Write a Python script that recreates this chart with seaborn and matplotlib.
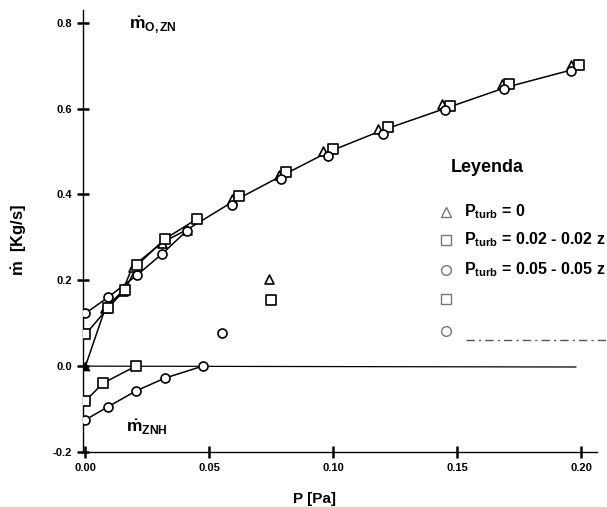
import matplotlib
matplotlib.use('Agg')
import matplotlib.pyplot as plt
from matplotlib.lines import Line2D
import seaborn as sns

sns.set_theme(style='white')
plt.rcParams['font.family'] = ['Liberation Sans', 'DejaVu Sans']
plt.rcParams['mathtext.fontset'] = 'custom'
plt.rcParams['mathtext.rm'] = 'Liberation Sans'
plt.rcParams['mathtext.bf'] = 'Liberation Sans:bold'
plt.rcParams['mathtext.it'] = 'Liberation Sans:italic'
plt.rcParams['text.color'] = 'black'
plt.rcParams['axes.labelcolor'] = 'black'
plt.rcParams['xtick.color'] = 'black'
plt.rcParams['ytick.color'] = 'black'

# upper branch (mass flow out)
tri_x = [0, 0.008, 0.015, 0.019, 0.031, 0.041, 0.059, 0.078, 0.096, 0.118, 0.144, 0.168, 0.196]
tri_y = [0, 0.135, 0.175, 0.232, 0.288, 0.318, 0.39, 0.446, 0.501, 0.552, 0.611, 0.658, 0.702]
sq_x = [0, 0.009, 0.016, 0.021, 0.032, 0.045, 0.062, 0.081, 0.100, 0.122, 0.147, 0.171, 0.199]
sq_y = [0.074, 0.135, 0.178, 0.236, 0.296, 0.343, 0.397, 0.452, 0.506, 0.557, 0.606, 0.658, 0.702]
circ_x = [0, 0.009, 0.021, 0.031, 0.041, 0.059, 0.079, 0.098, 0.120, 0.145, 0.169, 0.196]
circ_y = [0.123, 0.16, 0.213, 0.262, 0.316, 0.376, 0.437, 0.49, 0.54, 0.596, 0.646, 0.688]

# common fitted curve drawn through the groups
curve_x = [0.041, 0.06, 0.079, 0.098, 0.12, 0.145, 0.17, 0.2]
curve_y = [0.318, 0.385, 0.443, 0.499, 0.55, 0.60, 0.65, 0.696]

# lone points in the middle
lone_tri = (0.0742, 0.204)
lone_sq = (0.075, 0.155)
lone_circ = (0.0553, 0.077)

# lower branch (mass flow in)
low_sq_x = [0, 0.007, 0.0203]
low_sq_y = [-0.081, -0.04, 0.0]
low_circ_x = [0, 0.009, 0.0203, 0.032, 0.0473]
low_circ_y = [-0.125, -0.095, -0.058, -0.028, 0.0]

zero_x = [0, 0.198]
zero_y = [0, -0.002]

fig = plt.figure(figsize=(6.07, 5.07), dpi=100)
ax = fig.add_axes([0.1367, 0.1085, 0.847, 0.872])

lw = 1.1
mk = dict(s=42, color='white', edgecolor='black', linewidth=1.2, zorder=5, legend=False)

def near_origin(xs, ys, lim=0.046):
    return [x for x in xs if x <= lim], [y for x, y in zip(xs, ys) if x <= lim]

for xs, ys in [(tri_x, tri_y), (sq_x, sq_y), (circ_x, circ_y)]:
    nx, ny = near_origin(xs, ys)
    sns.lineplot(x=nx, y=ny, color='black', lw=lw, sort=False, estimator=None, ax=ax)
sns.lineplot(x=curve_x, y=curve_y, color='black', lw=lw, sort=False, estimator=None, ax=ax)
sns.lineplot(x=low_sq_x, y=low_sq_y, color='black', lw=lw, sort=False, estimator=None, ax=ax)
sns.lineplot(x=low_circ_x, y=low_circ_y, color='black', lw=lw, sort=False, estimator=None, ax=ax)
sns.lineplot(x=zero_x, y=zero_y, color='black', lw=0.9, sort=False, estimator=None, ax=ax)

sns.scatterplot(x=tri_x[1:], y=tri_y[1:], marker='^', ax=ax, **mk)
sns.scatterplot(x=tri_x[:1], y=tri_y[:1], marker='^', s=42, color='black', edgecolor='black',
                zorder=6, legend=False, ax=ax)
sns.scatterplot(x=sq_x, y=sq_y, marker='s', ax=ax, **mk)
sns.scatterplot(x=circ_x, y=circ_y, marker='o', ax=ax, **mk)
sns.scatterplot(x=[lone_tri[0]], y=[lone_tri[1]], marker='^', ax=ax, **mk)
sns.scatterplot(x=[lone_sq[0]], y=[lone_sq[1]], marker='s', ax=ax, **mk)
sns.scatterplot(x=[lone_circ[0]], y=[lone_circ[1]], marker='o', ax=ax, **mk)
sns.scatterplot(x=low_sq_x, y=low_sq_y, marker='s', ax=ax, **mk)
sns.scatterplot(x=low_circ_x, y=low_circ_y, marker='o', ax=ax, **mk)

ax.set_xlim(-0.001, 0.2065)
ax.set_ylim(-0.2, 0.83)
ax.set_xticks([0.0, 0.05, 0.10, 0.15, 0.20])
ax.set_xticklabels(['0.00', '0.05', '0.10', '0.15', '0.20'])
ax.set_yticks([-0.2, 0.0, 0.2, 0.4, 0.6, 0.8])
ax.set_yticklabels(['-0.2', '0.0', '0.2', '0.4', '0.6', '0.8'])
ax.tick_params(bottom=True, left=True, direction='inout', length=8, width=1.8,
               color='black', labelcolor='black', labelsize=8, pad=4)
for lab in ax.get_xticklabels() + ax.get_yticklabels():
    lab.set_fontweight('bold')
sns.despine(ax=ax)
for sp in ['left', 'bottom']:
    ax.spines[sp].set_color('black')
    ax.spines[sp].set_linewidth(1.0)

ax.set_xlabel('P [Pa]', fontsize=11, fontweight='bold')
ax.xaxis.set_label_coords(0.45, -0.09)
ax.set_ylabel(r'$\mathbf{\dot{m}}$  [Kg/s]', fontsize=12, fontweight='bold')
ax.yaxis.set_label_coords(-0.105, 0.48)

ax.text(0.0175, 0.785, r'$\mathbf{\dot{m}_{O,ZN}}$', fontsize=12.5)
ax.text(0.0165, -0.155, r'$\mathbf{\dot{m}_{ZNH}}$', fontsize=12.5)

# hand-drawn style legend on the right
W, H = 607.0, 507.0
def fx(px):
    return px / W
def fy(py):
    return 1 - py / H

fig.text(fx(487), fy(167), 'Leyenda', fontsize=13, fontweight='bold', ha='center', va='center')
leg_rows = [('^', 212, r'$\mathbf{P_{turb}}$ = 0'),
            ('s', 240, r'$\mathbf{P_{turb}}$ = 0.02 - 0.02 z'),
            ('o', 270, r'$\mathbf{P_{turb}}$ = 0.05 - 0.05 z'),
            ('s', 299, ''),
            ('o', 331, '')]
for m, py, label in leg_rows:
    fig.add_artist(Line2D([fx(446)], [fy(py)], marker=m, markersize=7, markerfacecolor='white',
                          markeredgecolor='#777777', markeredgewidth=1.0, linestyle='none'))
    if label:
        fig.text(fx(464), fy(py), label, fontsize=11.5, fontweight='bold', va='center', ha='left')
fig.add_artist(Line2D([fx(466), fx(607)], [fy(340), fy(340)], color='#555555', lw=1.0,
                      linestyle=(0, (6, 3, 1.5, 3))))

fig.savefig('out.png', dpi=100)
